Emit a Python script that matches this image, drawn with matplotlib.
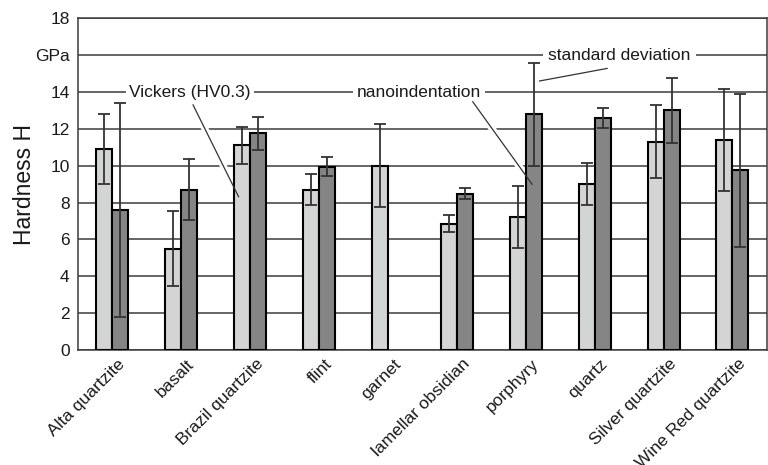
import matplotlib
matplotlib.use("Agg")
import matplotlib.pyplot as plt
import matplotlib.transforms as mtransforms
import numpy as np

categories = ["Alta quartzite", "basalt", "Brazil quartzite", "flint", "garnet",
              "lamellar obsidian", "porphyry", "quartz", "Silver quartzite", "Wine Red quartzite"]
vickers = [10.9, 5.5, 11.1, 8.7, 10.0, 6.85, 7.2, 9.0, 11.3, 11.4]
vickers_sd = [1.9, 2.05, 1.0, 0.85, 2.25, 0.47, 1.68, 1.15, 1.98, 2.75]
nano = [7.6, 8.7, 11.75, 9.95, np.nan, 8.48, 12.8, 12.6, 13.0, 9.75]
nano_sd = [5.8, 1.67, 0.87, 0.53, np.nan, 0.29, 2.8, 0.56, 1.78, 4.14]
ytick_vals = [0, 2, 4, 6, 8, 10, 12, 14, 16, 18]
ytick_labels = ["0", "2", "4", "6", "8", "10", "12", "14", "GPa", "18"]

plt.rcParams['font.family'] = ['Liberation Sans', 'DejaVu Sans']

fig = plt.figure(figsize=(7.68, 4.65), dpi=100)
ax = fig.add_axes([0.1016, 0.2473, 0.897, 0.7133])

x = np.arange(len(categories))
w = 0.232
light = "#d3d5d4"
dark = "#858585"
errc = "#333333"

ax.bar(x - w / 2, vickers, w, color=light, edgecolor="black", linewidth=1.5, zorder=3)
nx = [xi for xi, v in zip(x, nano) if not np.isnan(v)]
nv = [v for v in nano if not np.isnan(v)]
nsd = [s for s in nano_sd if not np.isnan(s)]
ax.bar(np.array(nx) + w / 2, nv, w, color=dark, edgecolor="black", linewidth=1.5, zorder=3)
ax.errorbar(x - w / 2, vickers, yerr=vickers_sd, fmt="none", ecolor=errc,
            elinewidth=1.3, capsize=4, capthick=1.3, zorder=4)
ax.errorbar(np.array(nx) + w / 2, nv, yerr=nsd, fmt="none", ecolor=errc,
            elinewidth=1.3, capsize=4, capthick=1.3, zorder=4)

ax.set_xlim(-0.5, len(categories) - 0.5)
ax.set_ylim(0, 18)
ax.set_yticks(ytick_vals)
ax.set_yticklabels(ytick_labels, fontsize=12.5, color="#1a1a1a")
ax.yaxis.grid(True, color="#3c3c3c", linewidth=1.1, zorder=0)
ax.set_axisbelow(True)
ax.tick_params(axis="y", length=0, pad=6)
ax.tick_params(axis="x", length=0, pad=3)
ax.set_xticks(x)
ax.set_xticklabels(categories, rotation=45, ha="right", rotation_mode="anchor",
                   fontsize=12.5, color="#1a1a1a")
offset = mtransforms.ScaledTranslation(5 / 100, -2 / 100, fig.dpi_scale_trans)
for lab in ax.get_xticklabels():
    lab.set_transform(lab.get_transform() + offset)
ax.set_ylabel("Hardness H", fontsize=16.5, color="#1a1a1a", labelpad=-1)
for s in ax.spines.values():
    s.set_color("#3c3c3c")
    s.set_linewidth(1.1)

# annotations with leader lines
bbox = dict(facecolor="white", edgecolor="none", pad=2.5)
ax.text(1.126, 14, "Vickers (HV0.3)", fontsize=12.5, ha="center", va="center",
        bbox=bbox, zorder=2, color="#1a1a1a")
ax.text(4.45, 14, "nanoindentation", fontsize=12.5, ha="center", va="center",
        bbox=bbox, zorder=2, color="#1a1a1a")
ax.text(7.36, 16, "standard deviation", fontsize=12.5, ha="center", va="center",
        bbox=dict(facecolor="white", edgecolor="none", pad=4), zorder=2, color="#1a1a1a")

leaders = [((1.17, 13.3), (1.83, 8.32)),
           ((5.23, 13.47), (6.09, 9.0)),
           ((7.18, 15.28), (6.2, 14.6))]
for (x0, y0), (x1, y1) in leaders:
    ax.plot([x0, x1], [y0, y1], color="white", linewidth=5, zorder=1.5,
            solid_capstyle="butt")
    ax.plot([x0, x1], [y0, y1], color="#333333", linewidth=0.9, zorder=5)

fig.savefig("out.png", dpi=100)
